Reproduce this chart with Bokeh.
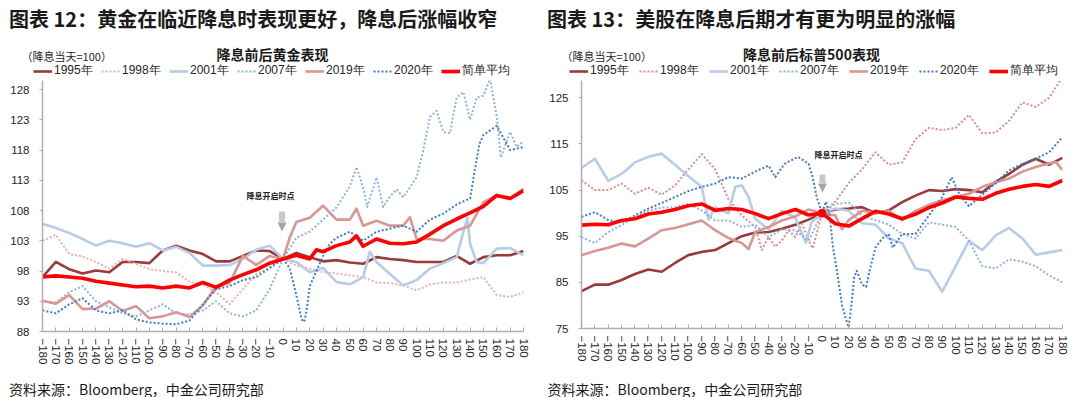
from bokeh.plotting import figure
from bokeh.models import Range1d, FixedTicker, Label, Legend, LegendItem, Arrow, NormalHead
from bokeh.layouts import row, column
from bokeh.embed import file_html
from bokeh.resources import INLINE

# ---------------- data ----------------
X_TICKS = [-180, -170, -160, -150, -140, -130, -120, -110, -100, -90, -80, -70, -60, -50, -40,
           -30, -20, -10, 0, 10, 20, 30, 40, 50, 60, 70, 80, 90, 100, 110, 120, 130, 140, 150,
           160, 170, 180]
DAYS = X_TICKS

GOLD_Y_TICKS = [88, 93, 98, 103, 108, 113, 118, 123, 128]
SPX_Y_TICKS = [75, 85, 95, 105, 115, 125]

# Gold (left panel)
G1995_D = DAYS
G1995_V = [97.0, 99.5, 98.3, 97.6, 98.1, 97.8, 99.5, 99.5, 99.3, 101.4, 102.2, 101.4, 100.8, 99.6,
           99.6, 100.5, 101.4, 101.3, 100.0, 101.0, 100.3, 99.6, 99.8, 99.4, 99.2, 100.3, 100.0,
           99.8, 99.5, 99.5, 99.5, 100.5, 99.2, 100.3, 100.6, 100.6, 101.3]
G1998_D = DAYS
G1998_V = [103.0, 104.0, 100.8, 100.4, 99.5, 98.4, 100.0, 99.2, 98.3, 98.0, 97.8, 96.2, 95.8, 94.5,
           92.5, 95.0, 97.5, 98.5, 100.0, 98.9, 98.4, 97.8, 97.6, 97.3, 97.0, 96.1, 96.0, 95.6,
           94.8, 95.8, 96.1, 96.1, 96.6, 97.0, 94.0, 93.7, 94.5]
G2001_D = [-180, -170, -160, -150, -140, -130, -120, -110, -100, -90, -80, -70, -60, -50, -40, -30,
           -20, -10, 0, 10, 20, 30, 40, 50, 60, 65, 70, 80, 90, 100, 110, 120, 130, 135, 138, 140,
           145, 150, 160, 170, 180]
G2001_V = [105.8, 105.1, 104.3, 103.3, 102.2, 103.0, 102.6, 102.0, 102.6, 101.4, 102.0, 101.0, 98.9,
           98.9, 99.0, 100.0, 101.5, 102.2, 100.0, 99.5, 97.8, 98.5, 96.2, 95.8, 97.0, 101.2, 99.5,
           97.5, 95.6, 96.5, 98.4, 99.3, 100.3, 104.5, 106.8, 102.5, 99.5, 99.3, 101.7, 101.8, 100.6]
G2007_D = [-180, -170, -160, -150, -140, -130, -120, -110, -100, -90, -80, -70, -60, -50, -40, -30,
           -20, -10, 0, 10, 20, 30, 40, 50, 55, 60, 63, 70, 75, 80, 85, 90, 100, 105, 110, 115, 120,
           125, 130, 135, 140, 145, 150, 155, 160, 163, 170, 175, 180]
G2007_V = [93.0, 92.8, 94.5, 95.5, 93.0, 92.0, 91.0, 90.5, 91.5, 92.5, 91.0, 90.8, 91.5, 93.0, 91.0,
           90.5, 91.5, 95.0, 100.0, 103.5, 104.5, 106.5, 108.5, 112.0, 115.2, 111.8, 108.6, 113.5,
           108.6, 110.3, 111.5, 110.2, 113.5, 118.0, 123.5, 124.5, 121.0, 120.8, 126.7, 127.6,
           123.0, 126.7, 127.0, 129.8, 123.5, 116.8, 121.0, 118.5, 119.5]
G2019_D = [-180, -170, -160, -150, -140, -130, -120, -110, -100, -90, -80, -70, -60, -50, -40, -30,
           -20, -10, 0, 5, 10, 20, 30, 40, 50, 55, 60, 70, 80, 90, 95, 100, 110, 120, 130, 140, 150,
           160, 170, 180]
G2019_V = [93.1, 92.6, 94.0, 91.7, 91.8, 93.0, 91.4, 92.2, 90.2, 90.5, 91.2, 90.4, 92.3, 95.5, 96.0,
           100.5, 99.0, 100.5, 100.0, 103.5, 106.1, 106.8, 108.8, 106.5, 106.5, 108.3, 105.5, 106.3,
           105.5, 105.5, 106.9, 103.3, 103.3, 103.0, 104.7, 105.5, 109.4, 110.5, 110.0, 111.6]
G2020_D = [-180, -170, -160, -150, -140, -130, -120, -110, -100, -90, -80, -70, -60, -50, -40, -30,
           -20, -10, 0, 5, 10, 14, 16, 18, 20, 25, 30, 35, 40, 50, 60, 70, 80, 90, 100, 110, 120,
           130, 140, 143, 147, 150, 160, 170, 180]
G2020_V = [91.5, 91.0, 92.5, 93.5, 91.5, 91.0, 91.5, 90.0, 89.5, 89.3, 89.2, 89.8, 92.5, 95.0, 95.5,
           96.5, 97.0, 98.5, 100.0, 98.5, 94.0, 90.0, 89.6, 92.0, 95.5, 98.0, 100.5, 102.5, 103.5,
           104.5, 103.0, 104.5, 105.0, 105.5, 104.5, 106.5, 107.5, 109.0, 110.0, 114.0, 119.0,
           120.5, 122.0, 118.0, 118.5]
GAVG_D = [-180, -170, -160, -150, -140, -130, -120, -110, -100, -90, -80, -70, -60, -50, -40, -30,
          -20, -10, 0, 10, 20, 25, 30, 40, 50, 55, 60, 70, 80, 90, 100, 110, 120, 130, 140, 150,
          160, 170, 180]
GAVG_V = [97.0, 97.2, 97.0, 96.8, 96.3, 96.0, 95.7, 95.4, 95.5, 95.2, 95.5, 95.2, 96.1, 95.3, 96.5,
          97.4, 98.2, 99.3, 100.0, 100.6, 100.0, 101.5, 101.2, 102.2, 102.8, 103.8, 102.1, 103.3,
          102.6, 102.5, 102.8, 104.1, 105.5, 106.6, 107.6, 108.7, 110.5, 110.0, 111.3]

# S&P 500 (right panel)
S1995_D = DAYS
S1995_V = [83.1, 84.5, 84.5, 85.5, 86.8, 87.8, 87.3, 89.2, 90.9, 91.6, 92.0, 93.5, 95.0, 95.8, 95.9,
           96.6, 97.5, 98.6, 100.0, 100.8, 101.0, 101.3, 100.0, 100.6, 102.4, 103.8, 105.0, 104.8,
           105.2, 105.0, 104.5, 106.8, 108.5, 110.5, 111.8, 110.5, 112.0]
S1998_D = [-180, -170, -160, -150, -140, -130, -120, -110, -100, -90, -80, -70, -60, -50, -45, -40,
           -35, -30, -25, -20, -15, -10, -7, -4, 0, 10, 20, 30, 40, 50, 60, 70, 80, 90, 100, 110,
           120, 130, 140, 150, 160, 170, 180]
S1998_V = [107.1, 105.0, 105.0, 106.4, 104.2, 105.5, 104.0, 106.0, 109.5, 112.8, 109.5, 103.0, 99.5,
           97.0, 92.0, 94.8, 92.7, 94.1, 96.3, 94.8, 97.7, 94.1, 92.4, 95.5, 100.0, 102.5, 106.5,
           109.5, 113.2, 110.5, 111.0, 116.0, 118.5, 118.0, 118.5, 121.3, 117.3, 117.5, 120.0,
           124.0, 123.0, 125.0, 129.5]
S2001_D = [-180, -170, -160, -150, -140, -130, -120, -110, -100, -90, -85, -80, -75, -70, -65, -60,
           -55, -50, -40, -30, -20, -12, -8, 0, 10, 20, 30, 40, 50, 60, 70, 80, 90, 100, 110, 120,
           130, 140, 150, 160, 170, 180]
S2001_V = [109.8, 111.8, 107.0, 108.5, 111.0, 112.2, 112.9, 110.5, 108.0, 105.7, 98.6, 101.3, 100.5,
           100.0, 105.7, 106.0, 103.5, 98.8, 96.5, 100.5, 99.0, 93.6, 98.0, 100.0, 101.0, 100.5,
           97.8, 97.5, 94.5, 93.5, 88.0, 87.5, 83.0, 88.5, 94.0, 92.0, 95.2, 96.8, 94.5, 91.0,
           91.5, 92.0]
S2007_D = DAYS
S2007_V = [94.8, 93.5, 95.9, 97.4, 99.2, 100.5, 101.2, 101.3, 102.0, 100.6, 98.4, 98.4, 97.0, 97.5,
           94.8, 96.5, 96.3, 94.0, 100.0, 102.0, 102.3, 99.5, 98.5, 97.5, 95.5, 94.5, 98.0, 97.5,
           97.0, 94.0, 88.5, 88.0, 90.0, 89.5, 88.5, 86.5, 85.0]
S2019_D = [-180, -170, -160, -150, -140, -130, -120, -110, -100, -90, -80, -70, -60, -55, -50, -40,
           -30, -20, -10, 0, 10, 15, 20, 30, 40, 50, 60, 70, 80, 90, 100, 110, 120, 130, 140, 150,
           160, 170, 175, 180]
S2019_V = [90.9, 91.8, 92.5, 93.4, 92.8, 94.5, 96.3, 96.8, 97.6, 98.4, 96.3, 94.6, 93.5, 92.2, 95.9,
           97.0, 98.4, 99.3, 100.8, 100.0, 99.5, 96.5, 98.5, 100.5, 100.0, 100.5, 98.5, 100.5,
           101.8, 102.8, 103.5, 104.2, 105.7, 106.7, 107.5, 109.0, 110.0, 110.8, 111.1, 109.3]
S2020_D = [-180, -170, -160, -150, -140, -130, -120, -110, -100, -90, -80, -70, -60, -50, -40, -35,
           -28, -18, -10, -7, -4, 0, 3, 6, 8, 10, 12, 15, 18, 20, 22, 24, 26, 30, 33, 36, 40, 45,
           50, 53, 60, 70, 80, 90, 97, 103, 110, 120, 130, 140, 150, 160, 170, 180]
S2020_V = [99.2, 100.2, 98.5, 98.0, 99.5, 101.0, 102.2, 103.5, 104.8, 105.7, 106.4, 107.8, 107.5,
           109.0, 110.3, 107.8, 110.7, 112.2, 110.7, 107.8, 103.5, 100.0, 102.5, 99.0, 93.0, 89.5,
           86.0, 80.0, 77.0, 75.3, 80.0, 86.0, 87.5, 84.5, 84.0, 88.0, 92.5, 94.5, 95.5, 92.5,
           95.5, 95.5, 99.5, 103.5, 107.8, 104.0, 101.5, 104.0, 106.5, 109.3, 110.7, 111.8, 113.2,
           116.5]
SAVG_D = DAYS
SAVG_V = [97.4, 97.6, 97.5, 98.4, 98.8, 99.8, 100.2, 100.8, 101.6, 102.0, 100.6, 101.0, 100.8, 99.9,
          98.8, 99.9, 100.8, 99.6, 100.0, 97.7, 97.2, 98.8, 100.4, 99.8, 98.8, 99.8, 101.2, 102.2,
          103.5, 103.2, 103.0, 104.3, 105.2, 105.8, 106.2, 105.8, 107.1]

SERIES_NAMES = ["1995年", "1998年", "2001年", "2007年", "2019年", "2020年", "简单平均"]
GOLD = [(G1995_D, G1995_V), (G1998_D, G1998_V), (G2001_D, G2001_V), (G2007_D, G2007_V),
        (G2019_D, G2019_V), (G2020_D, G2020_V), (GAVG_D, GAVG_V)]
SPX = [(S1995_D, S1995_V), (S1998_D, S1998_V), (S2001_D, S2001_V), (S2007_D, S2007_V),
       (S2019_D, S2019_V), (S2020_D, S2020_V), (SAVG_D, SAVG_V)]

# ---------------- styles ----------------
CJK = "Noto Sans CJK SC"
LAT = "Liberation Sans"
W = 540
REF_TOP = 77     # pixel row where the axis scale top is measured
HEAD_H = 80      # header strip (titles + legend); chart frame starts here
CHART_BOTTOM = 370
TOTAL_H = 397


def styles(c1998):
    return [
        dict(color="#9A3A3A", width=2.6, dash="solid"),
        dict(color=c1998, width=2.0, dash="2 2"),
        dict(color="#B7CCE8", width=2.6, dash="solid"),
        dict(color="#8DB4E2", width=2.0, dash="2 2"),
        dict(color="#D99694", width=2.6, dash="solid"),
        dict(color="#3F7AD6", width=2.0, dash="2 2"),
        dict(color="#FF0000", width=3.6, dash="solid"),
    ]


def no_align(f):
    try:
        f.frame_align = False
    except Exception:
        pass


def blank(h):
    f = figure(width=W, height=h, output_backend="svg", toolbar_location=None,
               x_range=Range1d(0, W), y_range=Range1d(h, 0),
               x_axis_type=None, y_axis_type=None, min_border=0)
    f.outline_line_color = None
    f.grid.visible = False
    no_align(f)
    return f


def panel(fig_x0, fx0, fx1, fy1, ylo, yhi, yticks, data, sty, title, title_x, subtitle,
          sub_cx, unit_x, leg_x, leg_stride, note_px, arrow_px, src_x, dot=False):
    # ---- header: titles + legend (positions in pixels) ----
    hd = blank(HEAD_H)
    hd.add_layout(Label(x=title_x - fig_x0, y=18, text=title, text_font=CJK,
                        text_font_size="20px", text_font_style="bold", text_color="#1A1A1A",
                        text_baseline="middle", text_align="left"))
    hd.add_layout(Label(x=sub_cx - fig_x0, y=53, text=subtitle, text_font=CJK,
                        text_font_size="14px", text_font_style="bold", text_color="#1A1A1A",
                        text_baseline="middle", text_align="center"))
    hd.add_layout(Label(x=unit_x - fig_x0, y=55.5, text="（降息当天=100）", text_font=CJK,
                        text_font_size="11px", text_color="#262626",
                        text_baseline="middle", text_align="left"))
    items = []
    for name, s in zip(SERIES_NAMES, sty):
        # legend swatch renderers (kept outside the visible header range)
        r = hd.line([-50, -40], [-50, -50], line_color=s["color"], line_width=s["width"],
                    line_dash=s["dash"])
        items.append(LegendItem(label=name, renderers=[r]))
    leg = Legend(items=items, orientation="horizontal", location=(leg_x - fig_x0, 1),
                 padding=0, margin=0, spacing=7, glyph_width=19, glyph_height=12,
                 label_standoff=2, label_width=leg_stride - 19 - 2 - 7,
                 label_text_font=LAT, label_text_font_size="12px",
                 label_text_color="#262626", border_line_color=None,
                 background_fill_alpha=0)
    hd.add_layout(leg, "center")

    # ---- chart ----
    # the value scale is measured with its top at REF_TOP; the frame starts at HEAD_H
    yhi_eff = yhi - (HEAD_H - REF_TOP) / (fy1 - REF_TOP) * (yhi - ylo)
    chart_h = CHART_BOTTOM - HEAD_H
    p = figure(width=W, height=chart_h, output_backend="svg", toolbar_location=None,
               x_range=Range1d(-180, 180), y_range=Range1d(ylo, yhi_eff),
               min_border_left=fx0 - fig_x0, min_border_right=fig_x0 + W - fx1,
               min_border_top=0, min_border_bottom=CHART_BOTTOM - fy1)
    p.outline_line_color = None
    p.grid.visible = False
    no_align(p)

    def dx(px):
        return -180 + (px - fx0) / (fx1 - fx0) * 360.0

    def dy(py):
        return yhi - (py - REF_TOP) / (fy1 - REF_TOP) * (yhi - ylo)

    ax = p.xaxis[0]
    ax.ticker = FixedTicker(ticks=X_TICKS)
    ax.major_label_orientation = "vertical"
    ax.major_label_text_font = LAT
    ax.major_label_text_font_size = "11.5px"
    ax.major_label_text_color = "#262626"
    ax.major_tick_in = 4
    ax.major_tick_out = 0
    ax.major_label_standoff = 7
    ax.minor_tick_line_color = None
    ax.axis_line_color = "#AFAFAF"
    ax.axis_line_width = 1.5
    ax.major_tick_line_color = "#AFAFAF"

    ay = p.yaxis[0]
    ay.ticker = FixedTicker(ticks=yticks)
    ay.major_label_text_font = LAT
    ay.major_label_text_font_size = "11.5px"
    ay.major_label_text_color = "#262626"
    ay.major_tick_in = 0
    ay.major_tick_out = 3
    ay.major_label_standoff = 10
    ay.minor_tick_line_color = None
    ay.axis_line_color = "#AFAFAF"
    ay.axis_line_width = 1.5
    ay.major_tick_line_color = "#AFAFAF"

    for (d, v), s in zip(data, sty):
        p.line(d, v, line_color=s["color"], line_width=s["width"], line_dash=s["dash"],
               line_join="round")

    if dot:
        d, v = data[-1]
        i0 = list(d).index(0)
        p.scatter([d[i0]], [v[i0]], size=8, color="#FF0000")

    p.add_layout(Label(x=dx(note_px[0]), y=dy(note_px[1]), text="降息开启时点",
                       text_font=CJK, text_font_size="8px", text_font_style="bold",
                       text_color="#1A1A1A", text_baseline="middle", text_align="center"))
    ax0, ay0, ay1 = arrow_px
    p.add_layout(Arrow(x_start=dx(ax0), y_start=dy(ay0), x_end=dx(ax0), y_end=dy(ay1),
                       line_color="#C9C9C9", line_width=6,
                       end=NormalHead(size=9, fill_color="#A6A6A6", line_color=None)))

    # ---- footer: source ----
    ft_h = TOTAL_H - CHART_BOTTOM
    ft = blank(ft_h)
    ft.add_layout(Label(x=src_x - fig_x0, y=388 - CHART_BOTTOM,
                        text="资料来源：Bloomberg，中金公司研究部",
                        text_font=CJK, text_font_size="14px", text_color="#1A1A1A",
                        text_baseline="middle", text_align="left"))
    return column(hd, p, ft, spacing=0)


left = panel(fig_x0=0, fx0=42, fx1=523, fy1=331, ylo=88, yhi=130, yticks=GOLD_Y_TICKS,
             data=GOLD, sty=styles("#F2AEAE"),
             title="图表 12：黄金在临近降息时表现更好，降息后涨幅收窄", title_x=8.5,
             subtitle="降息前后黄金表现", sub_cx=272, unit_x=21, leg_x=33, leg_stride=68,
             note_px=(270, 195), arrow_px=(281.5, 211, 231), src_x=8.6)
right = panel(fig_x0=540, fx0=581, fx1=1062, fy1=328, ylo=75, yhi=129.4,
              yticks=SPX_Y_TICKS, data=SPX, sty=styles("#E58A8A"),
              title="图表 13：美股在降息后期才有更为明显的涨幅", title_x=546.5,
              subtitle="降息前后标普500表现", sub_cx=811, unit_x=561, leg_x=569, leg_stride=70,
              note_px=(838, 153.5), arrow_px=(822, 174, 192), src_x=547, dot=True)

layout = row(left, right, spacing=0)
open("out.html", "w").write(file_html(layout, INLINE))
